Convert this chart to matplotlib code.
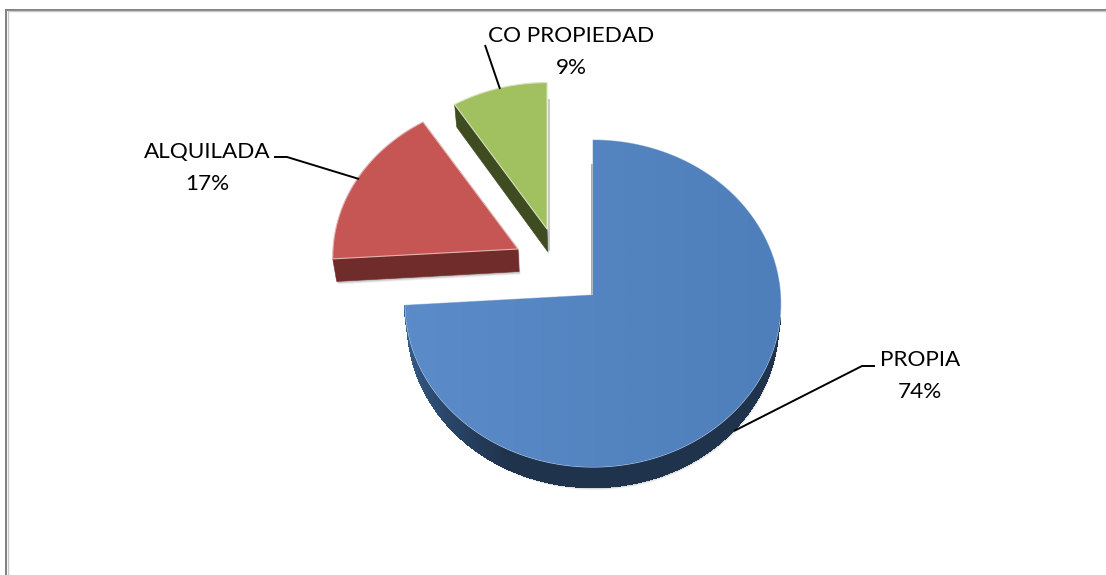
import numpy as np
import matplotlib
matplotlib.use("Agg")
import matplotlib.pyplot as plt
from matplotlib.colors import to_rgb, LinearSegmentedColormap
from matplotlib.patches import Polygon

categories = ["PROPIA", "ALQUILADA", "CO PROPIEDAD"]
shares = [74, 17, 9]

W, H = 1106, 575
face_colors = ["#5484bf", "#c65654", "#a1c05f"]
wall_colors = ["#1f334d", "#6f2c2a", "#3f4c21"]
apexes = [(593, 295), (518, 249), (547, 229)]
radii = [(187.5, 163), (185, 157), (180, 154)]
depths = [20, 22.5, 22.5]
K = 0.052

plt.rcParams["font.family"] = ["Lato", "DejaVu Sans"]
fig = plt.figure(figsize=(W / 100, H / 100), dpi=100)
ax = fig.add_axes([0, 0, 1, 1])
ax.set_xlim(0, W)
ax.set_ylim(H, 0)
ax.axis("off")


def arc(i, a0, a1, n=160):
    t = np.radians(np.linspace(a0, a1, n))
    X, Y = np.cos(t), np.sin(t)
    w = 1 + K * Y
    ax0, ay0 = apexes[i]
    rx, ry = radii[i]
    return np.column_stack([ax0 + rx * X / w, ay0 - ry * Y / w])


def drop(p, d):
    p = np.asarray(p, float)
    return np.column_stack([p[:, 0] + (593 - p[:, 0]) * 0.015, p[:, 1] + d])


def shadow(poly, z):
    for off, a in [(3.0, 0.10), (2.0, 0.16), (1.0, 0.22)]:
        ax.add_patch(Polygon(poly + np.array([off * 0.5, off]), closed=True, fc="#555555",
                             ec="none", alpha=a, zorder=z))


# slice angles from the shares, clockwise from the top
edges = 90 - np.cumsum([0] + shares) * 3.6

# blue slice
a0, a1 = edges[0], edges[1]
low = arc(0, max(a1, -180), -8, 200)
wall = np.vstack([low, drop(low, depths[0])[::-1]])
shadow(wall, 1)
ax.add_patch(Polygon(wall, closed=True, fc=wall_colors[0], ec="none", zorder=1.5))
n = len(low) - 1
left, mid = np.array(to_rgb("#3a6596")), np.array(to_rgb(wall_colors[0]))
for j in range(n):
    f = min(1.0, j / (0.36 * n))
    q = np.vstack([low[j:j + 2], drop(low[j:j + 2], depths[0])[::-1]])
    c = left + (mid - left) * f
    ax.add_patch(Polygon(q, closed=True, fc=c, ec=c, lw=1.2, antialiased=False, zorder=2))
ax.plot([591.5, 591.5], [165, 294], color="#8a8a8a", lw=2, alpha=0.8, zorder=2)
face = np.vstack([arc(0, a0, a1, 400), [apexes[0]]])
patch = Polygon(face, closed=True, fc=face_colors[0], ec="#b9cde6", lw=0.8, zorder=3)
ax.add_patch(patch)
cmap = LinearSegmentedColormap.from_list("b", ["#5b8bc8", "#4f7fba"])
img = ax.imshow(np.linspace(0, 1, 64).reshape(1, -1), cmap=cmap, extent=(405, 783, 480, 130),
                aspect="auto", interpolation="bilinear", zorder=3.5)
img.set_clip_path(patch)
ax.set_xlim(0, W)
ax.set_ylim(H, 0)

# red slice
a0, a1 = edges[1], edges[2]
outer = arc(1, a0, a1, 200)
top_edge = np.vstack([outer[:1], [apexes[1]]])
wall = np.vstack([top_edge, drop(top_edge, depths[1])[::-1]])
shadow(wall, 4)
ax.add_patch(Polygon(wall, closed=True, fc=wall_colors[1], ec=wall_colors[1], lw=0.4, zorder=5))
ax.add_patch(Polygon(np.vstack([outer, [apexes[1]]]), closed=True, fc=face_colors[1],
                     ec="#e3b3b1", lw=0.8, zorder=6))

# green slice
a0, a1 = edges[2], edges[3]
outer = arc(2, a0, a1, 120)
top_edge = np.vstack([outer[:1], [apexes[2]]])
wall = np.vstack([top_edge, drop(top_edge, depths[2])[::-1]])
shadow(wall, 4)
ax.plot([548.5, 548.5], [100, 250], color="#a8a8a8", lw=1.5, alpha=0.6, zorder=4)
ax.add_patch(Polygon(wall, closed=True, fc=wall_colors[2], ec=wall_colors[2], lw=0.4, zorder=5))
ax.add_patch(Polygon(np.vstack([outer, [apexes[2]]]), closed=True, fc=face_colors[2],
                     ec="#d5e2b8", lw=0.8, zorder=6))

# chart frame (only top and left are visible in the crop)
ax.plot([W, 6, 6], [9.5, 9.5, H], color="#7f7f7f", lw=1.4, solid_joinstyle="miter", zorder=1)
ax.plot([W, 7.5, 7.5], [11, 11, H], color="#c8c8c8", lw=1.0, solid_joinstyle="miter", zorder=1)

# labels and leader lines
label_pos = [(920, 376), (207, 168), (571.5, 52)]
leaders = [
    ([875, 862, 734], [366, 366, 431]),
    ([274, 287, 359], [157, 157, 179]),
    ([485, 500], [45, 89]),
]
for name, share, pos, (lx, ly) in zip(categories, shares, label_pos, leaders):
    ax.plot(lx, ly, color="black", lw=1.4, zorder=7, solid_capstyle="butt")
    ax.text(pos[0], pos[1], f"{name}\n{share}%", ha="center", va="center", fontsize=16.2,
            color="black", linespacing=1.8, zorder=8)

fig.savefig("out.png", dpi=100, facecolor="white")
